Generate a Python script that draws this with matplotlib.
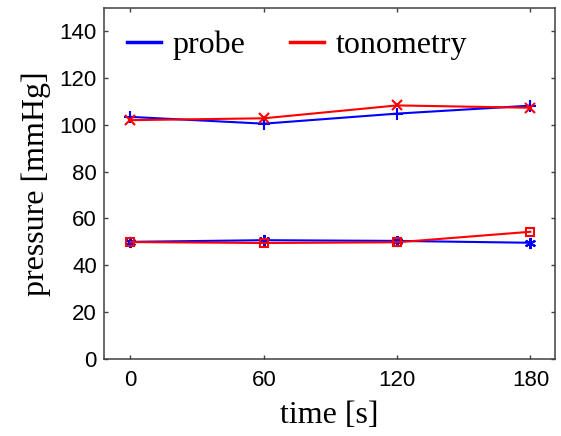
import matplotlib.pyplot as plt
from matplotlib.lines import Line2D

# time points [s]
time = [0, 60, 120, 180]

# upper curves (systolic)
probe_sys = [103.4, 100.5, 104.8, 108.2]
tono_sys = [102.0, 102.8, 108.3, 107.3]

# lower curves (diastolic)
probe_dia = [50.0, 50.7, 50.4, 49.6]
tono_dia = [49.9, 49.5, 49.8, 54.3]

xticks = [0, 60, 120, 180]
yticks = [0, 20, 40, 60, 80, 100, 120, 140]

blue = '#0000ff'
red = '#ff0000'
serif = 'Liberation Serif'
sans = 'Liberation Sans'

fig = plt.figure(figsize=(5.61, 4.36), dpi=100)
ax = fig.add_axes([0.185, 0.177, 0.804, 0.805])

ax.plot(time, probe_sys, color=blue, lw=1.5, marker='+', ms=8, mew=1.5)
ax.plot(time, tono_sys, color=red, lw=1.5, marker='x', ms=7, mew=1.5)
ax.plot(time, probe_dia, color=blue, lw=1.5, marker=(6, 2, 0), ms=8, mew=1.5)
ax.plot(time, tono_dia, color=red, lw=1.5, marker='s', ms=6, mew=1.5,
        mfc='none')

ax.set_xlim(-12, 191)
ax.set_ylim(0, 150)
ax.set_xticks(xticks)
ax.set_yticks(yticks)

for lab in ax.get_xticklabels() + ax.get_yticklabels():
    lab.set_fontfamily(sans)
    lab.set_fontsize(16)

ax.tick_params(direction='in', length=3, width=1, color='#404040',
               top=True, right=True)
ax.tick_params(axis='x', pad=8)
ax.tick_params(axis='y', pad=5)
for sp in ax.spines.values():
    sp.set_color('#404040')
    sp.set_linewidth(1.1)

ax.set_xlabel('time [s]', family=serif, fontsize=23, labelpad=7)
ax.set_ylabel('pressure [mmHg]', family=serif, fontsize=23, labelpad=6)

handles = [Line2D([], [], color=blue, lw=2.5), Line2D([], [], color=red, lw=2.5)]
ax.legend(handles, ['probe', 'tonometry'], ncol=2, frameon=False,
          loc='center left', bbox_to_anchor=(0.0525, 0.893),
          borderaxespad=0, borderpad=0, handlelength=1.05,
          handletextpad=0.37, columnspacing=1.4,
          prop={'family': serif, 'size': 23})

fig.savefig('out.png', dpi=100)
